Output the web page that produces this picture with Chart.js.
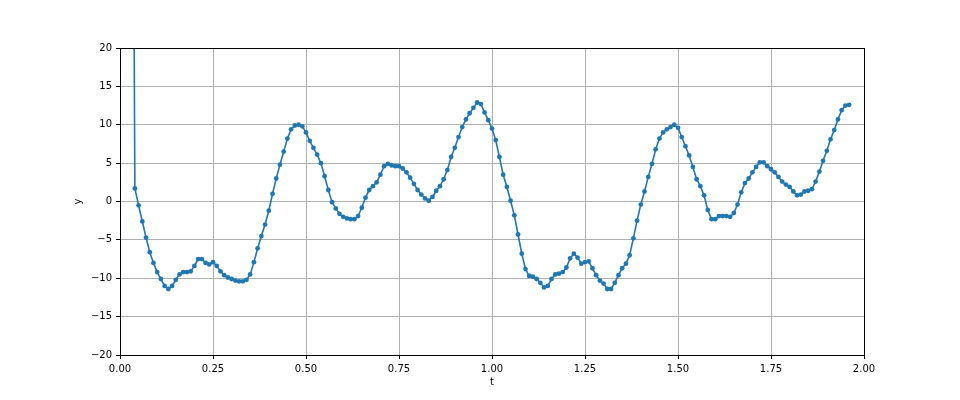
<!DOCTYPE html>
<html lang="en">
<head>
  <meta charset="UTF-8" />
  <title>y vs t</title>
  <script src="https://cdn.jsdelivr.net/npm/chart.js"></script>
  <style>
    html, body { margin: 0; padding: 0; background: #fff; }
    #wrap { width: 960px; height: 400px; }
  </style>
</head>
<body>
  <div id="wrap"><canvas id="plot" width="960" height="400"></canvas></div>

  <script>
    // sample times (s)
    const tVals = [
      0.03, 0.04, 0.05, 0.06, 0.07, 0.08, 0.09,
      0.10, 0.11, 0.12, 0.13, 0.14, 0.15, 0.16, 0.17, 0.18, 0.19,
      0.20, 0.21, 0.22, 0.23, 0.24, 0.25, 0.26, 0.27, 0.28, 0.29,
      0.30, 0.31, 0.32, 0.33, 0.34, 0.35, 0.36, 0.37, 0.38, 0.39,
      0.40, 0.41, 0.42, 0.43, 0.44, 0.45, 0.46, 0.47, 0.48, 0.49,
      0.50, 0.51, 0.52, 0.53, 0.54, 0.55, 0.56, 0.57, 0.58, 0.59,
      0.60, 0.61, 0.62, 0.63, 0.64, 0.65, 0.66, 0.67, 0.68, 0.69,
      0.70, 0.71, 0.72, 0.73, 0.74, 0.75, 0.76, 0.77, 0.78, 0.79,
      0.80, 0.81, 0.82, 0.83, 0.84, 0.85, 0.86, 0.87, 0.88, 0.89,
      0.90, 0.91, 0.92, 0.93, 0.94, 0.95, 0.96, 0.97, 0.98, 0.99,
      1.00, 1.01, 1.02, 1.03, 1.04, 1.05, 1.06, 1.07, 1.08, 1.09,
      1.10, 1.11, 1.12, 1.13, 1.14, 1.15, 1.16, 1.17, 1.18, 1.19,
      1.20, 1.21, 1.22, 1.23, 1.24, 1.25, 1.26, 1.27, 1.28, 1.29,
      1.30, 1.31, 1.32, 1.33, 1.34, 1.35, 1.36, 1.37, 1.38, 1.39,
      1.40, 1.41, 1.42, 1.43, 1.44, 1.45, 1.46, 1.47, 1.48, 1.49,
      1.50, 1.51, 1.52, 1.53, 1.54, 1.55, 1.56, 1.57, 1.58, 1.59,
      1.60, 1.61, 1.62, 1.63, 1.64, 1.65, 1.66, 1.67, 1.68, 1.69,
      1.70, 1.71, 1.72, 1.73, 1.74, 1.75, 1.76, 1.77, 1.78, 1.79,
      1.80, 1.81, 1.82, 1.83, 1.84, 1.85, 1.86, 1.87, 1.88, 1.89,
      1.90, 1.91, 1.92, 1.93, 1.94, 1.95, 1.96
    ];

    // measured y, first sample is far above the visible range
    const yVals = [
      100, 1.7, -0.5, -2.6, -4.7, -6.6, -8.0,
      -9.2, -10.1, -11.0, -11.4, -11.0, -10.2, -9.5, -9.2, -9.2, -9.1,
      -8.4, -7.5, -7.5, -8.0, -8.2, -7.9, -8.4, -9.1, -9.6, -9.9,
      -10.1, -10.3, -10.4, -10.4, -10.2, -9.5, -7.9, -6.1, -4.5, -3.0,
      -1.2, 1.0, 3.0, 4.8, 6.5, 8.2, 9.4, 9.9, 10.0, 9.8,
      9.0, 7.9, 7.0, 6.1, 5.0, 3.3, 1.5, -0.1, -0.9, -1.6,
      -2.0, -2.2, -2.3, -2.3, -1.9, -0.8, 0.5, 1.5, 2.0, 2.5,
      3.5, 4.6, 4.9, 4.7, 4.6, 4.6, 4.3, 3.8, 3.1, 2.3,
      1.5, 0.9, 0.4, 0.1, 0.6, 1.4, 2.0, 2.9, 4.1, 5.8,
      7.0, 8.4, 9.7, 10.7, 11.5, 12.2, 12.9, 12.7, 11.6, 10.6,
      9.5, 8.0, 5.8, 3.5, 1.9, 0.1, -1.8, -4.3, -6.8, -8.8,
      -9.7, -9.8, -10.1, -10.6, -11.2, -11.0, -10.1, -9.5, -9.4, -9.2,
      -8.6, -7.4, -6.8, -7.3, -8.1, -7.9, -7.8, -8.7, -9.6, -10.3,
      -10.7, -11.4, -11.4, -10.6, -9.6, -8.7, -8.1, -7.0, -4.8, -2.5,
      -0.4, 1.3, 3.2, 4.9, 6.8, 8.2, 9.0, 9.4, 9.7, 10.0,
      9.6, 8.4, 7.2, 6.0, 4.5, 2.9, 2.0, 0.8, -1.1, -2.3,
      -2.3, -1.9, -1.9, -1.9, -2.0, -1.5, -0.4, 1.2, 2.4, 3.0,
      3.8, 4.5, 5.1, 5.1, 4.6, 4.2, 3.8, 3.2, 2.6, 2.2,
      1.9, 1.3, 0.8, 0.9, 1.3, 1.4, 1.6, 2.6, 3.9, 5.3,
      6.6, 8.1, 9.3, 10.7, 11.9, 12.5, 12.6
    ];

    const xTicks = [0, 0.25, 0.5, 0.75, 1.0, 1.25, 1.5, 1.75, 2.0];
    const yTicks = [-20, -15, -10, -5, 0, 5, 10, 15, 20];

    const FONT = { family: "'DejaVu Sans', sans-serif", size: 10 };

    // black box around the axes, like matplotlib spines
    const frame = {
      id: 'frame',
      afterDatasetsDraw(chart) {
        const { ctx, chartArea: a } = chart;
        ctx.save();
        ctx.strokeStyle = '#000';
        ctx.lineWidth = 1;
        ctx.strokeRect(Math.round(a.left) + 0.5, Math.round(a.top) + 0.5,
          Math.round(a.right - a.left), Math.round(a.bottom - a.top));
        ctx.restore();
      }
    };

    const points = tVals.map((t, i) => ({ x: t, y: yVals[i] }));

    new Chart(document.getElementById('plot'), {
      type: 'line',
      data: {
        datasets: [{
          data: points,
          borderColor: '#1f77b4',
          backgroundColor: '#1f77b4',
          borderWidth: 1.6,
          pointRadius: 2.4,
          pointBorderWidth: 0,
          tension: 0
        }]
      },
      options: {
        responsive: false,
        animation: false,
        devicePixelRatio: 1,
        layout: { padding: { left: 0, right: 96, top: 48, bottom: 0 } },
        plugins: { legend: { display: false }, tooltip: { enabled: false } },
        scales: {
          x: {
            type: 'linear',
            min: 0,
            max: 2,
            afterFit: s => { s.height = 45; },
            afterBuildTicks: s => { s.ticks = xTicks.map(v => ({ value: v })); },
            ticks: {
              font: FONT,
              color: '#000',
              padding: 4,
              maxRotation: 0,
              callback: v => v.toFixed(2)
            },
            grid: { color: '#b0b0b0', lineWidth: 1, tickColor: '#000', tickLength: 4 },
            border: { display: true, color: '#000', width: 1 },
            title: { display: true, text: 't', font: FONT, color: '#000', padding: { top: 0, bottom: 12 } }
          },
          y: {
            type: 'linear',
            min: -20,
            max: 20,
            afterFit: s => { s.width = 120; },
            afterBuildTicks: s => { s.ticks = yTicks.map(v => ({ value: v })); },
            ticks: {
              font: FONT,
              color: '#000',
              padding: 4,
              callback: v => (v < 0 ? '\u2212' + Math.abs(v) : String(v))
            },
            grid: { color: '#b0b0b0', lineWidth: 1, tickColor: '#000', tickLength: 4 },
            border: { display: true, color: '#000', width: 1 },
            title: { display: true, text: 'y', font: FONT, color: '#000', padding: { top: 72, bottom: 0 } }
          }
        }
      },
      plugins: [frame]
    });
  </script>
</body>
</html>
